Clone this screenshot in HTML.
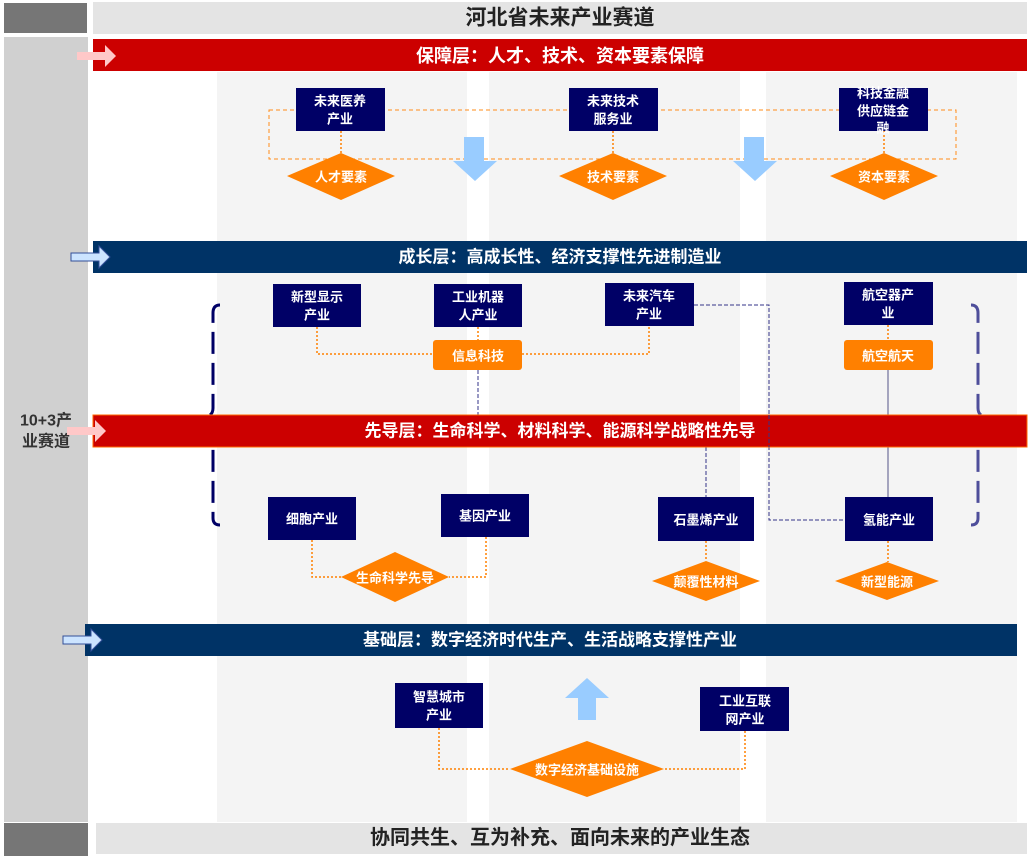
<!DOCTYPE html>
<html><head><meta charset="utf-8"><style>
html,body{margin:0;padding:0;background:#fff;}
svg{display:block;font-family:"Liberation Sans","Noto Sans CJK SC",sans-serif;}
.w{fill:#fff;font-weight:bold;text-anchor:middle;dominant-baseline:central;}
</style></head><body>
<svg width="1031" height="858" viewBox="0 0 1031 858" xmlns="http://www.w3.org/2000/svg">
<!-- backgrounds -->
<rect x="4" y="3" width="83" height="30" fill="#767676"/>
<rect x="93" y="2" width="934" height="32" fill="#e4e4e4"/>
<text x="560" y="18" font-size="21" font-weight="bold" fill="#222" text-anchor="middle" dominant-baseline="central">河北省未来产业赛道</text>
<rect x="4" y="37" width="84" height="785" fill="#d0d0d0"/>
<rect x="217" y="72" width="250" height="750" fill="#f4f4f4"/>
<rect x="489" y="72" width="251" height="750" fill="#f4f4f4"/>
<rect x="766" y="72" width="251" height="750" fill="#f4f4f4"/>
<rect x="4" y="823" width="84" height="33" fill="#767676"/>
<rect x="96" y="823" width="931" height="31" fill="#e4e4e4"/>
<text x="560" y="838" font-size="20" font-weight="bold" fill="#222" text-anchor="middle" dominant-baseline="central">协同共生、互为补充、面向未来的产业生态</text>
<text x="46" y="421" font-size="16" font-weight="bold" fill="#333" text-anchor="middle" dominant-baseline="central">10+3产</text>
<text x="46" y="442" font-size="16" font-weight="bold" fill="#333" text-anchor="middle" dominant-baseline="central">业赛道</text>

<!-- layer 1 -->
<rect x="93" y="39" width="934" height="32" fill="#cc0000"/>
<text class="w" x="560" y="56" font-size="18">保障层：人才、技术、资本要素保障</text>
<polygon points="77,52 105,52 105,45 116,56 105,67 105,60 77,60" fill="#ffc8c8"/>

<rect x="269" y="110" width="687" height="49" fill="none" stroke="#ff8c1a" stroke-width="1" stroke-dasharray="4,3"/>
<g stroke="#ff8000" stroke-width="1.5" stroke-dasharray="2,2">
<line x1="341" y1="131" x2="341" y2="153"/><line x1="613" y1="131" x2="613" y2="153"/><line x1="884" y1="131" x2="884" y2="153"/>
</g>
<rect x="296" y="88" width="89" height="43" fill="#000066"/>
<text class="w" x="340" y="101" font-size="13">未来医养</text><text class="w" x="340" y="119" font-size="13">产业</text>
<rect x="569" y="88" width="89" height="43" fill="#000066"/>
<text class="w" x="613" y="101" font-size="13">未来技术</text><text class="w" x="613" y="119" font-size="13">服务业</text>
<rect x="839" y="88" width="89" height="43" fill="#000066"/>
<text class="w" x="883" y="93" font-size="13">科技金融</text><text class="w" x="883" y="111" font-size="13">供应链金</text><text class="w" x="883" y="128" font-size="13">融</text>
<polygon points="341,153 395,176 341,200 287,176" fill="#ff8000"/>
<text class="w" x="341" y="177" font-size="13">人才要素</text>
<polygon points="613,153 667,176 613,200 559,176" fill="#ff8000"/>
<text class="w" x="613" y="177" font-size="13">技术要素</text>
<polygon points="884,153 938,176 884,200 830,176" fill="#ff8000"/>
<text class="w" x="884" y="177" font-size="13">资本要素</text>
<polygon points="464,137 484,137 484,161 497,161 475,181 453,161 464,161" fill="#99ccff"/>
<polygon points="744,137 764,137 764,161 777,161 755,181 733,161 744,161" fill="#99ccff"/>

<!-- layer 2 -->
<rect x="93" y="241" width="934" height="32" fill="#003366"/>
<text class="w" x="560" y="257" font-size="17">成长层：高成长性、经济支撑性先进制造业</text>
<polygon points="71,253 99,253 99,246 110,257 99,268 99,261 71,261" fill="#cce4ff" stroke="#334f99" stroke-width="1"/>

<!-- connectors -->
<g fill="none" stroke="#ff8000" stroke-width="1.5" stroke-dasharray="2,2">
<polyline points="317,327 317,354 433,354"/>
<polyline points="522,354 649,354 649,326"/>
<line x1="478" y1="327" x2="478" y2="340"/>
<line x1="888" y1="325" x2="888" y2="340"/>
<polyline points="312,540 312,577 341,577"/>
<polyline points="486,537 486,577 449,577"/>
<line x1="706" y1="541" x2="706" y2="561"/>
<line x1="888" y1="541" x2="888" y2="562"/>
<polyline points="439,728 439,769 510,769"/>
<polyline points="745,731 745,769 664,769"/>
</g>
<g fill="none" stroke="#333388" stroke-width="1" stroke-dasharray="4,2">
<line x1="478" y1="370" x2="478" y2="415"/>
<polyline points="694,305 769,305 769,520 845,520"/>
<line x1="706" y1="447" x2="706" y2="497"/>
</g>
<line x1="888" y1="370" x2="888" y2="498" stroke="#555588" stroke-width="1"/>

<!-- brackets -->
<path d="M220,305 Q213,305 213,313 L213,408 Q213,415 207,416 Q213,417 213,424 L213,518 Q213,525 220,525" fill="none" stroke="#000066" stroke-width="3" stroke-dasharray="22,9"/>
<path d="M971,305 Q978,305 978,313 L978,408 Q978,415 984,416 Q978,417 978,424 L978,518 Q978,525 971,525" fill="none" stroke="#4e4e9a" stroke-width="3" stroke-dasharray="22,9"/>

<rect x="273" y="284" width="88" height="43" fill="#000066"/>
<text class="w" x="317" y="297" font-size="13">新型显示</text><text class="w" x="317" y="315" font-size="13">产业</text>
<rect x="434" y="284" width="88" height="43" fill="#000066"/>
<text class="w" x="478" y="297" font-size="13">工业机器</text><text class="w" x="478" y="315" font-size="13">人产业</text>
<rect x="605" y="283" width="89" height="43" fill="#000066"/>
<text class="w" x="649" y="296" font-size="13">未来汽车</text><text class="w" x="649" y="314" font-size="13">产业</text>
<rect x="844" y="282" width="89" height="43" fill="#000066"/>
<text class="w" x="888" y="295" font-size="13">航空器产</text><text class="w" x="888" y="313" font-size="13">业</text>
<rect x="433" y="340" width="89" height="30" rx="3" fill="#ff8000"/>
<text class="w" x="478" y="356" font-size="13">信息科技</text>
<rect x="844" y="340" width="89" height="30" rx="3" fill="#ff8000"/>
<text class="w" x="888" y="356" font-size="13">航空航天</text>

<!-- layer 3 -->
<rect x="93" y="415" width="934" height="32" fill="#cc0000" stroke="#ff6600" stroke-width="1"/>
<text class="w" x="560" y="431" font-size="17">先导层：生命科学、材料科学、能源科学战略性先导</text>
<polygon points="67,427 95,427 95,420 106,431 95,442 95,435 67,435" fill="#ffc8c8"/>
<line x1="769" y1="415" x2="769" y2="447" stroke="#333388" stroke-width="1" stroke-dasharray="4,2"/>

<rect x="268" y="497" width="88" height="43" fill="#000066"/>
<text class="w" x="312" y="519" font-size="13">细胞产业</text>
<rect x="441" y="494" width="88" height="43" fill="#000066"/>
<text class="w" x="485" y="516" font-size="13">基因产业</text>
<rect x="658" y="497" width="96" height="44" fill="#000066"/>
<text class="w" x="706" y="520" font-size="13">石墨烯产业</text>
<rect x="845" y="497" width="88" height="44" fill="#000066"/>
<text class="w" x="889" y="520" font-size="13">氢能产业</text>
<polygon points="395,552 449,577 395,602 341,577" fill="#ff8000"/>
<text class="w" x="395" y="578" font-size="13">生命科学先导</text>
<polygon points="706,561 760,581 706,601 652,581" fill="#ff8000"/>
<text class="w" x="706" y="582" font-size="13">颠覆性材料</text>
<polygon points="887,562 939,581 887,600 835,581" fill="#ff8000"/>
<text class="w" x="887" y="582" font-size="13">新型能源</text>

<!-- layer 4 -->
<rect x="85" y="624" width="932" height="32" fill="#003366"/>
<text class="w" x="550" y="640" font-size="17">基础层：数字经济时代生产、生活战略支撑性产业</text>
<polygon points="63,636 91,636 91,629 102,640 91,651 91,644 63,644" fill="#cce4ff" stroke="#334f99" stroke-width="1"/>

<rect x="395" y="683" width="88" height="45" fill="#000066"/>
<text class="w" x="439" y="697" font-size="13">智慧城市</text><text class="w" x="439" y="715" font-size="13">产业</text>
<rect x="700" y="687" width="89" height="44" fill="#000066"/>
<text class="w" x="745" y="701" font-size="13">工业互联</text><text class="w" x="745" y="719" font-size="13">网产业</text>
<polygon points="587,678 609,698 596,698 596,720 578,720 578,698 565,698" fill="#99ccff"/>
<polygon points="587,741 664,769 587,797 510,769" fill="#ff8000"/>
<text class="w" x="587" y="770" font-size="13">数字经济基础设施</text>
</svg>
</body></html>
